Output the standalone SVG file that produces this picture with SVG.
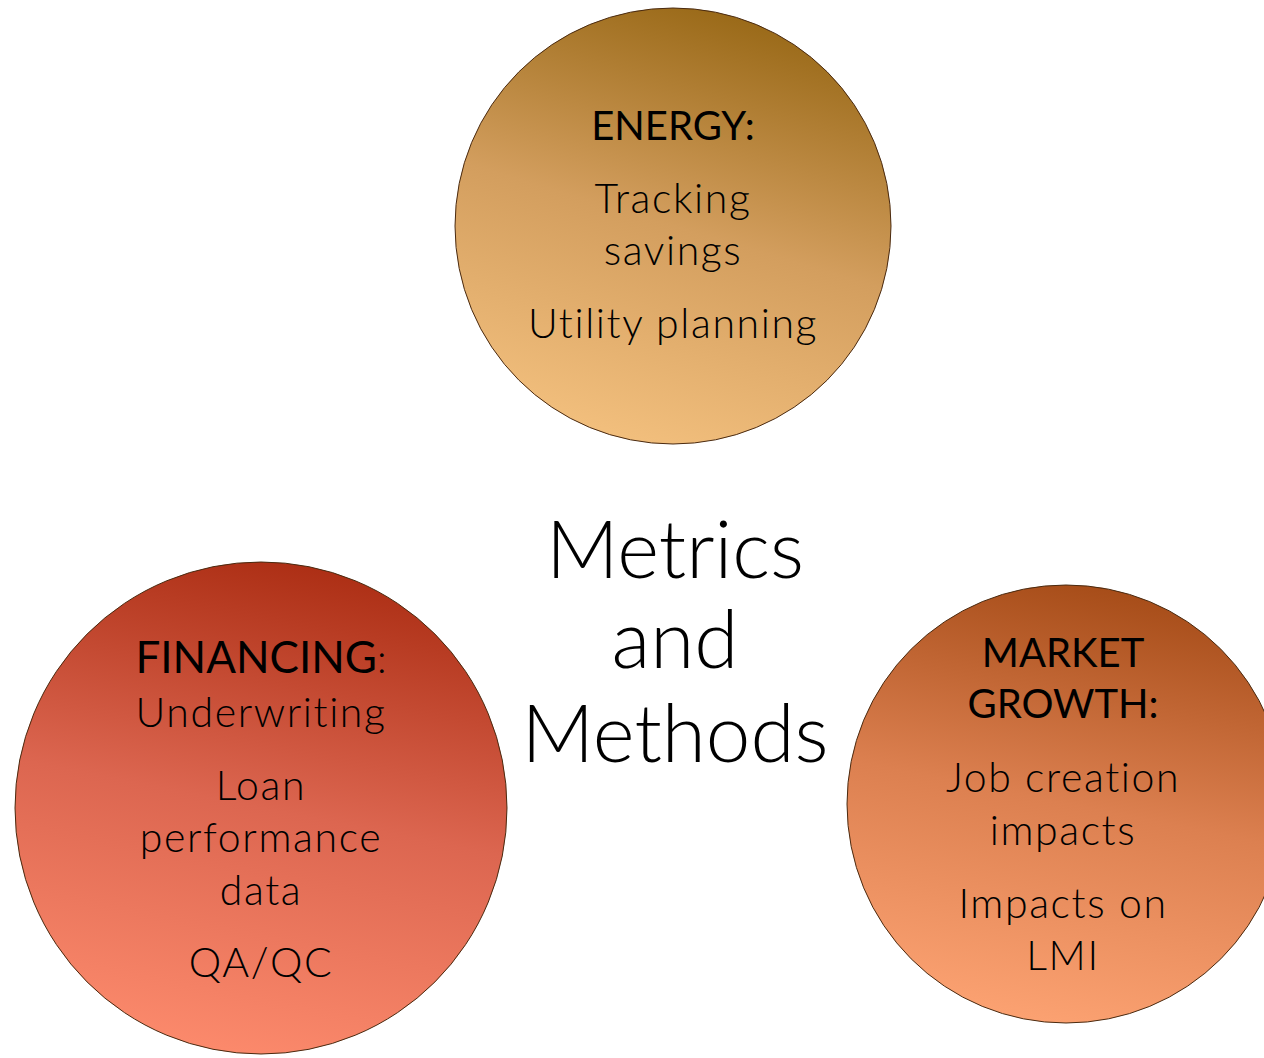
<svg xmlns="http://www.w3.org/2000/svg" width="1264" height="1058" viewBox="0 0 1264 1058">
<defs>
<linearGradient id="gEnergy" x1="0.65" y1="0" x2="0.35" y2="1">
<stop offset="0" stop-color="#986816"/>
<stop offset="0.5" stop-color="#d39e5e"/>
<stop offset="1" stop-color="#f3c07e"/>
</linearGradient>
<linearGradient id="gFin" x1="0.6" y1="0" x2="0.4" y2="1">
<stop offset="0" stop-color="#ac2e14"/>
<stop offset="0.5" stop-color="#dc6650"/>
<stop offset="1" stop-color="#fc8a6c"/>
</linearGradient>
<linearGradient id="gMkt" x1="0.6" y1="0" x2="0.4" y2="1">
<stop offset="0" stop-color="#a64c18"/>
<stop offset="0.5" stop-color="#dc8050"/>
<stop offset="1" stop-color="#fca272"/>
</linearGradient>
</defs>
<style>
.c{stroke:#4a2a10;stroke-width:1}
.t{font-family:Lato,"Open Sans","Liberation Sans",sans-serif;fill:#000;text-anchor:middle;font-variant-ligatures:none}
.h{font-size:40px;font-weight:400}
.hf{font-size:44px;font-weight:400}
.b{font-size:41px;font-weight:300;letter-spacing:1.6px}
.m{font-size:80px;font-weight:300}
</style>
<rect width="1264" height="1058" fill="#fff"/>
<g id="energy">
<circle class="c" cx="673" cy="226" r="218" fill="url(#gEnergy)"/>
<text class="t h" x="673" y="140">ENERGY:</text>
<text class="t b" x="673" y="213">Tracking</text>
<text class="t b" x="673" y="265">savings</text>
<text class="t b" x="673" y="338">Utility planning</text>
</g>
<g id="financing">
<circle class="c" cx="261" cy="808" r="246" fill="url(#gFin)"/>
<text class="t hf" x="261" y="673">FINANCING<tspan style="font-weight:300;font-size:40px">:</tspan></text>
<text class="t b" x="261" y="727">Underwriting</text>
<text class="t b" x="261" y="800">Loan</text>
<text class="t b" x="261" y="852">performance</text>
<text class="t b" x="261" y="905">data</text>
<text class="t b" x="261" y="977">QA/QC</text>
</g>
<g id="market">
<circle class="c" cx="1066" cy="804" r="219" fill="url(#gMkt)"/>
<text class="t h" x="1063" y="667">MARKET</text>
<text class="t h" x="1063" y="718">GROWTH:</text>
<text class="t b" x="1063" y="792">Job creation</text>
<text class="t b" x="1063" y="845">impacts</text>
<text class="t b" x="1063" y="918">Impacts on</text>
<text class="t b" x="1063" y="970">LMI</text>
</g>
<g id="center">
<text class="t m" x="675" y="578">Metrics</text>
<text class="t m" x="675" y="668">and</text>
<text class="t m" x="675" y="762">Methods</text>
</g>
<g id="connectors"></g>
</svg>
